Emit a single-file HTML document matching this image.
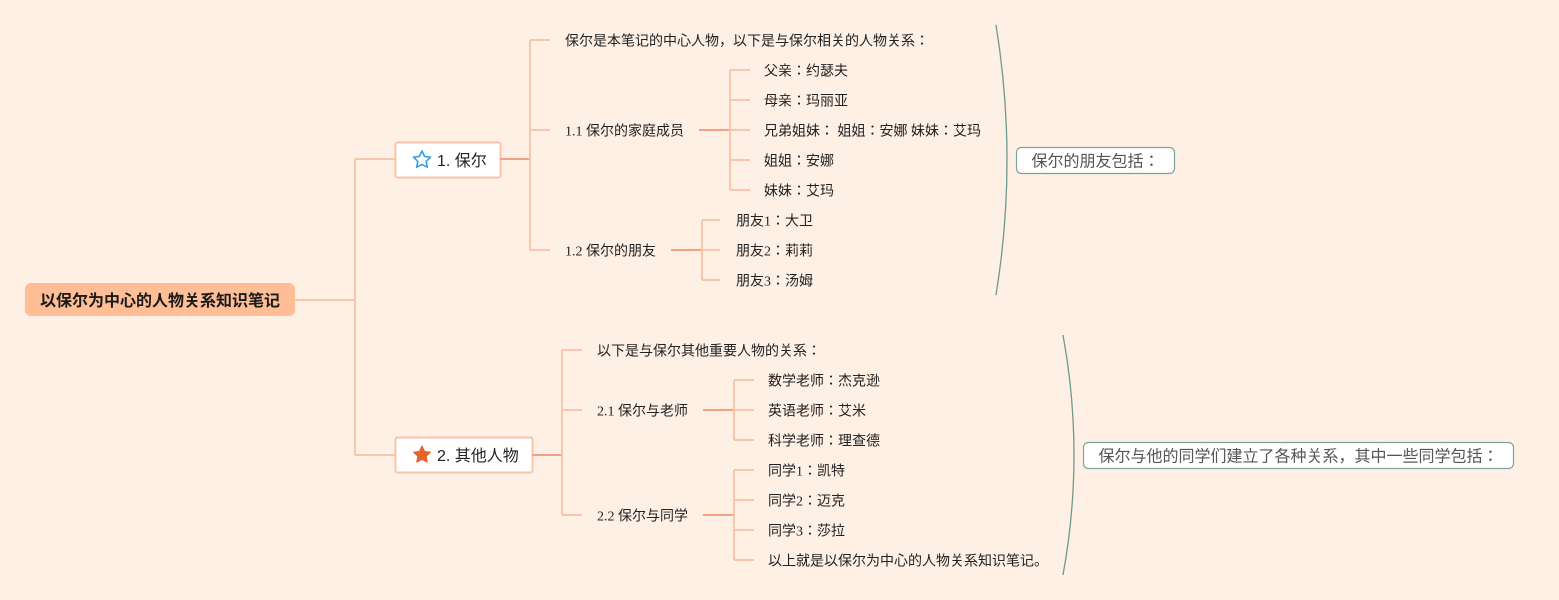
<!DOCTYPE html>
<html>
<head>
<meta charset="utf-8">
<style>
html,body{margin:0;padding:0;background:#FFF0E6;}
svg{display:block;}
.t{font-family:"Liberation Serif","Noto Sans CJK JP",sans-serif;font-size:14px;fill:#222;dominant-baseline:central;}
.n{font-family:"Liberation Sans","Noto Sans CJK JP",sans-serif;font-size:16px;fill:#222;dominant-baseline:central;}
.s{font-family:"Liberation Sans","Noto Sans CJK JP",sans-serif;font-size:16px;fill:#555;dominant-baseline:central;}
.l{stroke:#F8C6AB;stroke-width:2;fill:none;}
.d{stroke:#F0A283;stroke-width:2;fill:none;}
</style>
</head>
<body>
<svg width="1559" height="600" viewBox="0 0 1559 600" xmlns="http://www.w3.org/2000/svg">
<rect width="1559" height="600" fill="#FFF0E6"/>

<!-- root connectors -->
<path class="l" d="M295,300 H355 M355,159 V455 M355,159 H395 M355,455 H395"/>

<!-- root -->
<rect x="25" y="283" width="270" height="33" rx="6" fill="#FFBE96"/>
<text x="160" y="301.5" text-anchor="middle" style="font-family:'Liberation Sans','Noto Sans CJK JP',sans-serif;font-size:16px;font-weight:bold;fill:#1a1a1a;dominant-baseline:central;">以保尔为中心的人物关系知识笔记</text>

<!-- node 1 -->
<rect x="395.5" y="142.5" width="105" height="35" rx="2" fill="#fff" stroke="#F9C5A8" stroke-width="2"/>
<polygon points="422,151 424.6,156.4 430.5,157.2 426.2,161.3 427.3,167.2 422,164.4 416.7,167.2 417.8,161.3 413.5,157.2 419.4,156.4" fill="none" stroke="#3AA0DC" stroke-width="1.6" stroke-linejoin="round"/>
<text class="n" x="437" y="161.5">1. 保尔</text>

<!-- node 2 -->
<rect x="395.5" y="437.5" width="137" height="35" rx="2" fill="#fff" stroke="#F9C5A8" stroke-width="2"/>
<polygon points="422,446 424.6,451.4 430.5,452.2 426.2,456.3 427.3,462.2 422,459.4 416.7,462.2 417.8,456.3 413.5,452.2 419.4,451.4" fill="#E5642C" stroke="#E5642C" stroke-width="1" stroke-linejoin="round"/>
<text class="n" x="437" y="456.5">2. 其他人物</text>

<!-- node 1 branches -->
<path class="d" d="M500,159 H530"/>
<path class="l" d="M530,40 V250 M530,40 H550 M530,130 H550 M530,250 H550"/>
<text class="t" x="565" y="42">保尔是本笔记的中心人物，以下是与保尔相关的人物关系：</text>
<text class="t" x="565" y="132">1.1 保尔的家庭成员</text>
<text class="t" x="565" y="252">1.2 保尔的朋友</text>

<path class="d" d="M699,130 H730"/>
<path class="l" d="M730,70 V190 M730,70 H750 M730,100 H750 M730,130 H750 M730,160 H750 M730,190 H750"/>
<text class="t" x="764" y="72">父亲：约瑟夫</text>
<text class="t" x="764" y="102">母亲：玛丽亚</text>
<text class="t" x="764" y="132">兄弟姐妹： 姐姐：安娜 妹妹：艾玛</text>
<text class="t" x="764" y="162">姐姐：安娜</text>
<text class="t" x="764" y="192">妹妹：艾玛</text>

<path class="d" d="M671,250 H702"/>
<path class="l" d="M702,220 V280 M702,220 H720 M702,250 H720 M702,280 H720"/>
<text class="t" x="736" y="222">朋友1：大卫</text>
<text class="t" x="736" y="252">朋友2：莉莉</text>
<text class="t" x="736" y="282">朋友3：汤姆</text>

<!-- node 2 branches -->
<path class="d" d="M532,455 H562"/>
<path class="l" d="M562,350 V515 M562,350 H582 M562,410 H582 M562,515 H582"/>
<text class="t" x="597" y="352">以下是与保尔其他重要人物的关系：</text>
<text class="t" x="597" y="412">2.1 保尔与老师</text>
<text class="t" x="597" y="517">2.2 保尔与同学</text>

<path class="d" d="M703,410 H734"/>
<path class="l" d="M734,380 V440 M734,380 H754 M734,410 H754 M734,440 H754"/>
<text class="t" x="768" y="382">数学老师：杰克逊</text>
<text class="t" x="768" y="412">英语老师：艾米</text>
<text class="t" x="768" y="442">科学老师：理查德</text>

<path class="d" d="M703,515 H734"/>
<path class="l" d="M734,470 V560 M734,470 H754 M734,500 H754 M734,530 H754 M734,560 H754"/>
<text class="t" x="768" y="472">同学1：凯特</text>
<text class="t" x="768" y="502">同学2：迈克</text>
<text class="t" x="768" y="532">同学3：莎拉</text>
<text class="t" x="768" y="562">以上就是以保尔为中心的人物关系知识笔记。</text>

<!-- summary brackets -->
<path d="M996,25 Q1018,160 996,295" fill="none" stroke="#6E9A8C" stroke-width="1.3"/>
<rect x="1016.5" y="147.5" width="158" height="26" rx="5" fill="#fff" stroke="#7FA39A" stroke-width="1.2"/>
<text class="s" x="1095.5" y="162" text-anchor="middle">保尔的朋友包括：</text>

<path d="M1063,335 Q1085,455 1063,575" fill="none" stroke="#6E9A8C" stroke-width="1.3"/>
<rect x="1083.5" y="442.5" width="430" height="26" rx="5" fill="#fff" stroke="#7FA39A" stroke-width="1.2"/>
<text class="s" x="1298.5" y="457" text-anchor="middle">保尔与他的同学们建立了各种关系，其中一些同学包括：</text>
</svg>
</body>
</html>
